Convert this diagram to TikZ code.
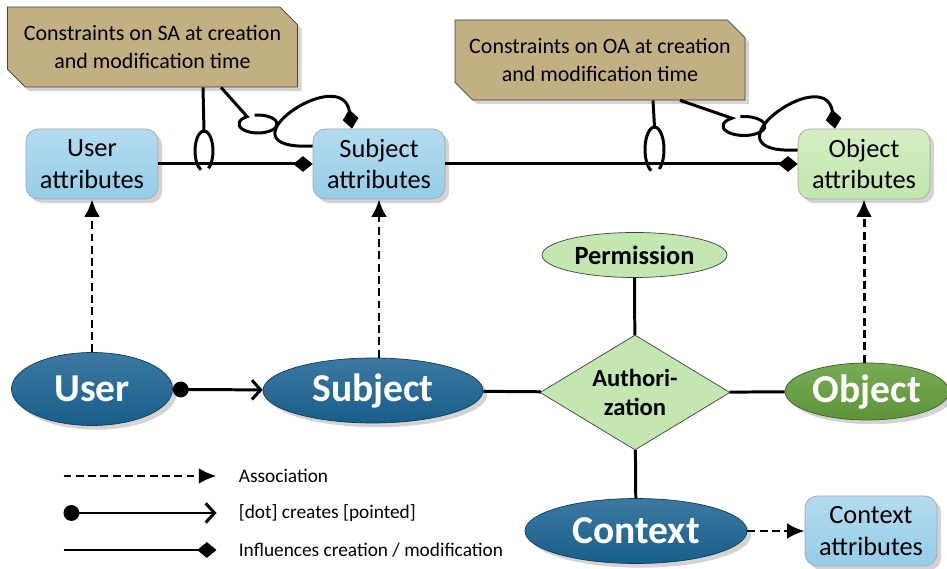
\documentclass[tikz,border=0pt]{standalone}
\usepackage{fontspec}
\setmainfont{Carlito}
\usetikzlibrary{positioning, arrows.meta, shapes.geometric, shapes.misc, shadows}

\definecolor{constrfill}{RGB}{194,176,130}
\definecolor{attrblue}{RGB}{148,204,232}
\definecolor{attrgreen}{RGB}{194,230,172}
\definecolor{entblue}{RGB}{26,98,145}
\definecolor{entgreen}{RGB}{98,156,58}
\definecolor{relgreen}{RGB}{196,230,176}

\tikzset{
	conn/.style={line width=1.7pt}, % plain connector between nodes
	assoc/.style={conn, dash pattern=on 4.5pt off 2.5pt, -{Latex[length=10pt,width=9pt]}}, % association
	creates/.style={conn, {Circle[length=9pt]}-{Straight Barb[length=5pt,width=11pt]}}, % dot creates pointed
	infl/.style={conn, -{Diamond[length=11pt,width=9pt]}}, % influences creation / modification
	ring/.style={line width=1.7pt}, % the loops round a connector
	constr/.style={chamfered rectangle, chamfered rectangle corners={north east,south west},
		chamfered rectangle xsep=5pt, chamfered rectangle ysep=5pt, draw=black!75, fill=constrfill,
		drop shadow={opacity=0.35}, align=center, inner sep=0pt, minimum width=5.8cm, minimum height=1.6cm,
		font=\fontsize{12.5}{16.4}\selectfont},
	attr/.style={rectangle, rounded corners=7pt, draw=black!35, top color=attrblue!70!white, bottom color=attrblue,
		drop shadow={opacity=0.35}, align=center, inner sep=0pt, minimum width=2.64cm, minimum height=1.4cm,
		font=\fontsize{15}{18}\selectfont},
	entity/.style={ellipse, draw=entblue!60!black, top color=entblue!85!white, bottom color=entblue!95!black, text=white,
		drop shadow={opacity=0.35}, inner sep=0pt, font=\bfseries\fontsize{22.5}{26}\selectfont},
	rel/.style={diamond, aspect=1.65, draw=black!75, fill=relgreen, align=center, inner sep=0pt,
		minimum width=3.8cm, minimum height=2.3cm, font=\bfseries\fontsize{14}{17}\selectfont},
	legtext/.style={anchor=west, inner sep=0pt, font=\fontsize{11}{13}\selectfont},
}

\begin{document}
\begin{tikzpicture}
	\useasboundingbox (0,0) rectangle (18.94,11.38);
	% constraints
	\node[constr] (saCons) at (3.05,10.44) {Constraints on SA at creation\\and modification time};
	\node[constr] (oaCons) at (12.00,10.18) {Constraints on OA at creation\\and modification time};
	% attributes
	\node[attr] (userAttr) at (1.84,8.10) {User\\attributes};
	\node[attr] (subjAttr) at (7.58,8.10) {Subject\\attributes};
	\node[attr, top color=attrgreen!70!white, bottom color=attrgreen] (objAttr) at (17.28,8.10) {Object\\attributes};
	\node[attr] (ctxAttr) at (17.42,0.76) {Context\\attributes};
	% entities
	\node[entity, minimum width=3.22cm, minimum height=1.46cm] (user) at (1.84,3.60) {User};
	\node[entity, minimum width=4.40cm, minimum height=1.30cm] (subject) at (7.46,3.57) {Subject};
	\node[rel] (auth) at (12.70,3.53) {Authori-\\zation};
	\node[ellipse, draw=black!75, fill=relgreen, inner sep=0pt, minimum width=3.7cm, minimum height=0.9cm,
		font=\bfseries\fontsize{15}{18}\selectfont] (perm) at (12.69,6.28) {Permission};
	\node[entity, draw=entgreen!60!black, top color=entgreen!85!white, bottom color=entgreen!95!black,
		minimum width=3.28cm, minimum height=1.14cm] (object) at (17.34,3.55) {Object};
	\node[entity, minimum width=4.44cm, minimum height=1.30cm] (context) at (12.72,0.76) {Context};

	\draw[assoc] (userAttr.south |- user.north) -- (userAttr.south);
	\draw[assoc] (subjAttr.south |- subject.north) -- (subjAttr.south);
	\draw[assoc] (objAttr.south |- object.north) -- (objAttr.south);
	\draw[assoc] (context) -- (ctxAttr);
	\draw[creates] (user) -- (subject);
	\draw[conn] (subject) -- (auth);
	\draw[conn] (auth) -- (object);
	\draw[conn] (perm) -- (auth);
	\draw[conn] (auth) -- (context);
	\draw[infl] (userAttr) -- (subjAttr);
	\draw[infl] (subjAttr) -- (objAttr);

	% self loops
	\draw[infl] ([yshift=0.36cm]subjAttr.west) .. controls +(-2.0,-0.1) and +(-0.2,1.35) .. ([xshift=-0.54cm]subjAttr.north);
	\draw[infl] ([yshift=0.28cm]objAttr.west) .. controls +(-2.0,-0.1) and +(-0.2,1.35) .. ([xshift=-0.58cm]objAttr.north);

	% constraint rings
	\coordinate (saRingV) at (4.08,8.36);
	\coordinate (saRingH) at (5.16,8.90);
	\coordinate (oaRingV) at (13.09,8.39);
	\coordinate (oaRingH) at (14.88,8.86);
	\draw[ring] ([xshift=1.01cm]saCons.south) -- ([yshift=0.40cm]saRingV);
	\draw[ring] ([shift={(-60:0.18 and 0.40)}]saRingV) arc[start angle=-60, end angle=250, x radius=0.18, y radius=0.40];
	\draw[ring] ([xshift=1.37cm]saCons.south) -- ([shift={(125:0.38 and 0.18)}]saRingH)
		arc[start angle=125, end angle=460, x radius=0.38, y radius=0.18];
	\draw[ring] ([xshift=1.06cm]oaCons.south) -- ([yshift=0.45cm]oaRingV);
	\draw[ring] ([shift={(-60:0.19 and 0.45)}]oaRingV) arc[start angle=-60, end angle=250, x radius=0.19, y radius=0.45];
	\draw[ring] ([xshift=1.60cm]oaCons.south) -- ([shift={(125:0.42 and 0.19)}]oaRingH)
		arc[start angle=125, end angle=460, x radius=0.42, y radius=0.19];

	% legend
	\coordinate (legA) at (1.27,1.86);
	\coordinate (legAe) at (4.33,1.86);
	\coordinate (legB) at (1.27,1.12);
	\coordinate (legBe) at (4.33,1.12);
	\coordinate (legC) at (1.27,0.38);
	\coordinate (legCe) at (4.33,0.38);
	\draw[assoc] (legA) -- (legAe);
	\draw[creates] (legB) -- (legBe);
	\draw[infl] (legC) -- (legCe);
	\node[legtext, right=0.44cm of legAe] (legAt) {Association};
	\node[legtext, right=0.44cm of legBe] (legBt) {[dot] creates [pointed]};
	\node[legtext, right=0.44cm of legCe] (legCt) {Influences creation / modification};
\end{tikzpicture}
\end{document}
